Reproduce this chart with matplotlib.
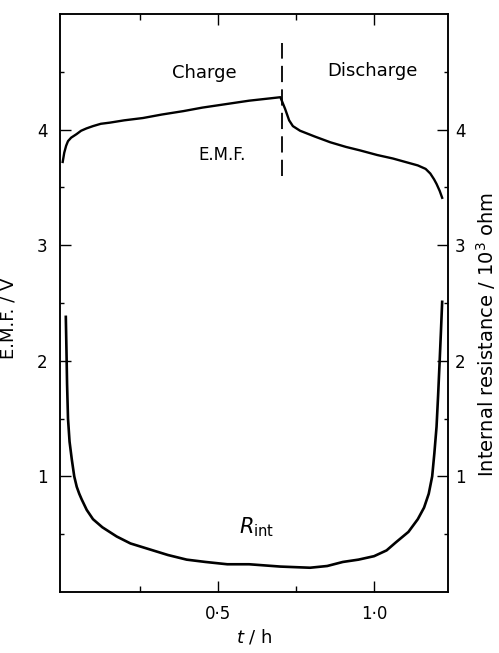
import matplotlib
matplotlib.use('Agg')
import matplotlib.pyplot as plt
from matplotlib.ticker import FixedLocator

# E.M.F. during charge / discharge
emf_t = [0.003, 0.008, 0.014, 0.02, 0.03, 0.047, 0.062, 0.079, 0.10, 0.125,
         0.154, 0.20, 0.26, 0.32, 0.39, 0.45, 0.50, 0.55, 0.60, 0.667,
         0.700, 0.715, 0.728, 0.74, 0.763, 0.81, 0.86, 0.91, 0.955, 1.01,
         1.06, 1.10, 1.14, 1.165, 1.18, 1.192, 1.20, 1.21, 1.218]
emf_v = [3.72, 3.80, 3.86, 3.90, 3.93, 3.96, 3.99, 4.01, 4.03, 4.05,
         4.06, 4.08, 4.10, 4.13, 4.16, 4.19, 4.21, 4.23, 4.25, 4.27,
         4.28, 4.18, 4.08, 4.03, 3.99, 3.94, 3.89, 3.85, 3.82, 3.78,
         3.75, 3.72, 3.69, 3.66, 3.62, 3.57, 3.53, 3.47, 3.41]

# internal resistance / 10^3 ohm
rint_t = [0.013, 0.015, 0.017, 0.020, 0.025, 0.032, 0.040, 0.048, 0.056, 0.064,
          0.08, 0.10, 0.13, 0.176, 0.22, 0.28, 0.34, 0.40, 0.46, 0.53,
          0.60, 0.70, 0.795, 0.85, 0.90, 0.95, 1.0, 1.04, 1.07, 1.11,
          1.14, 1.16, 1.175, 1.186, 1.193, 1.20, 1.205, 1.21, 1.214, 1.218]
rint_r = [2.38, 2.10, 1.80, 1.50, 1.30, 1.15, 1.00, 0.91, 0.85, 0.80,
          0.71, 0.63, 0.56, 0.48, 0.42, 0.37, 0.32, 0.28, 0.26, 0.24,
          0.24, 0.22, 0.21, 0.225, 0.26, 0.28, 0.31, 0.36, 0.43, 0.52,
          0.63, 0.73, 0.85, 1.00, 1.20, 1.43, 1.70, 2.00, 2.25, 2.51]

switch_t = 0.705
y_ticks = [1, 2, 3, 4]
y_minor = [0.5, 1.5, 2.5, 3.5, 4.5]
x_ticks = [0.5, 1.0]
x_minor = [0.25, 0.75]
x_tick_labels = ['0·5', '1·0']

plt.rcParams['font.family'] = 'DejaVu Sans'

fig = plt.figure(figsize=(4.99, 6.53), dpi=100)
ax = fig.add_axes([0.120, 0.0934, 0.778, 0.8852])
ax2 = ax.twinx()

ax.plot(emf_t, emf_v, color='black', lw=1.7)
ax2.plot(rint_t, rint_r, color='black', lw=1.9)
ax.plot([switch_t, switch_t], [3.6, 4.75], color='black', lw=1.3,
        dashes=(9, 4))

ax.set_xlim(-0.006, 1.237)
ax.set_ylim(0, 5)
ax2.set_ylim(0, 5)

ax.xaxis.set_major_locator(FixedLocator(x_ticks))
ax.set_xticklabels(x_tick_labels)
ax.xaxis.set_minor_locator(FixedLocator(x_minor))
ax.set_yticks(y_ticks)
ax2.set_yticks(y_ticks)
ax.yaxis.set_minor_locator(FixedLocator(y_minor))
ax2.yaxis.set_minor_locator(FixedLocator(y_minor))

ax.tick_params(axis='x', which='both', direction='in', top=True,
               labelsize=12, pad=9)
ax.tick_params(axis='x', which='major', length=8, width=1)
ax.tick_params(axis='x', which='minor', length=4, width=1)
ax.tick_params(axis='y', which='major', direction='in', length=8, width=1,
               labelsize=12, pad=9)
ax.tick_params(axis='y', which='minor', direction='in', length=3, width=1)
ax2.tick_params(axis='y', which='major', direction='in', length=8, width=1,
                labelsize=12, pad=5)
ax2.tick_params(axis='y', which='minor', direction='in', length=3, width=1)

for a in (ax, ax2):
    for s in a.spines.values():
        s.set_linewidth(1.1)

ax.set_xlabel('$t$ / h', fontsize=13)
ax.xaxis.set_label_coords(0.50, -0.062)
ax.set_ylabel('E.M.F. / V', fontsize=13)
ax.yaxis.set_label_coords(-0.108, 0.474)
ax2.set_ylabel('Internal resistance / 10$^3$ ohm', fontsize=14)
ax2.yaxis.set_label_coords(1.068, 0.445)

ax.text(0.458, 4.49, 'Charge', ha='center', va='center', fontsize=13)
ax.text(0.994, 4.51, 'Discharge', ha='center', va='center', fontsize=13)
ax.text(0.513, 3.78, 'E.M.F.', ha='center', va='center', fontsize=12)
ax.text(0.625, 0.56, r'$R_{\mathrm{int}}$', ha='center', va='center', fontsize=15)

fig.savefig('out.png', dpi=100)
